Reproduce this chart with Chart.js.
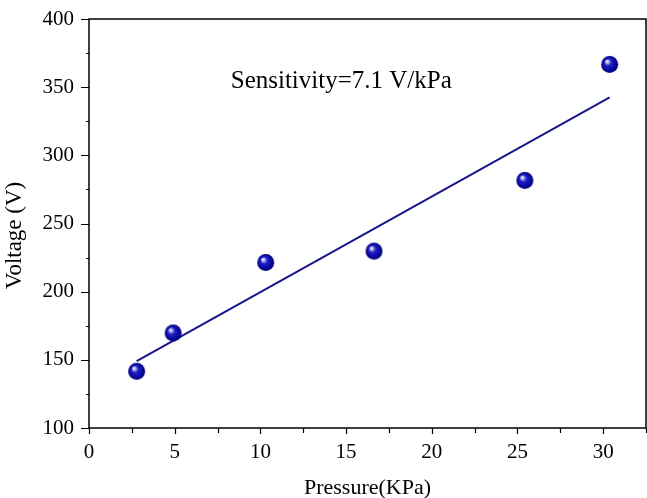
<!DOCTYPE html>
<html lang="en">
<head>
  <meta charset="UTF-8">
  <title>Voltage vs Pressure</title>
  <script src="https://cdn.jsdelivr.net/npm/chart.js"></script>
  <style>
    html, body {
      margin: 0;
      padding: 0;
      background: #fff;
      overflow: hidden;
    }
    #chart {
      display: block;
    }
  </style>
</head>
<body>
  <canvas id="chart" width="647" height="505"></canvas>
  <script>
    // measured points
    const pressure = [2.78, 4.91, 10.31, 16.63, 25.43, 30.38];
    const voltage = [141.6, 169.7, 221.4, 229.7, 281.6, 366.7];

    // linear fit end points
    const fitPressure = [2.78, 30.38];
    const fitVoltage = [149, 342.5];

    // axis ticks
    const xMajorStep = 5;
    const yMajorStep = 50;

    const noteText = 'Sensitivity=7.1 V/kPa';
    const notePos = [8.27, 354];
    const yTitle = 'Voltage (V)';

    const serif = "'Liberation Serif', 'Times New Roman', serif";
    Chart.defaults.font.family = serif;
    Chart.defaults.color = '#000';

    // shaded ball used as point style
    function makeBall(r) {
      const c = document.createElement('canvas');
      c.width = c.height = r * 2 + 2;
      const g = c.getContext('2d');
      const cx = r + 1, cy = r + 1;
      const grad = g.createRadialGradient(cx - r * 0.35, cy - r * 0.4, 0, cx, cy, r);
      grad.addColorStop(0, '#ffffff');
      grad.addColorStop(0.18, '#b8b8f0');
      grad.addColorStop(0.4, '#2222c8');
      grad.addColorStop(0.8, '#06069e');
      grad.addColorStop(1, '#00006a');
      g.fillStyle = grad;
      g.beginPath();
      g.arc(cx, cy, r, 0, Math.PI * 2);
      g.fill();
      return c;
    }
    const ball = makeBall(8.5);

    // no extra room for overflowing labels, the layout is fixed by hand
    function noPad(scale) {
      scale.paddingTop = 0;
      scale.paddingBottom = 0;
      scale.paddingLeft = 0;
      scale.paddingRight = 0;
    }

    // frame, outward ticks (major + minor), y title and the sensitivity note
    const framePlugin = {
      id: 'frame',
      afterDraw(chart) {
        const { ctx, chartArea: { left, right, top, bottom }, scales: { x, y } } = chart;
        ctx.save();
        ctx.strokeStyle = '#000';
        ctx.lineWidth = 1.5;
        ctx.strokeRect(left, top, right - left, bottom - top);

        ctx.lineWidth = 1.2;
        ctx.beginPath();
        x.ticks.forEach(t => {
          const px = Math.round(x.getPixelForValue(t.value)) + 0.5;
          const len = Math.abs(t.value % xMajorStep) < 1e-6 ? 6 : 5;
          ctx.moveTo(px, bottom);
          ctx.lineTo(px, bottom + len);
        });
        y.ticks.forEach(t => {
          const py = Math.round(y.getPixelForValue(t.value)) + 0.5;
          const len = Math.abs(t.value % yMajorStep) < 1e-6 ? 8 : 3;
          ctx.moveTo(left, py);
          ctx.lineTo(left - len, py);
        });
        ctx.stroke();

        ctx.fillStyle = '#000';
        ctx.font = '25px ' + serif;
        ctx.textAlign = 'left';
        ctx.textBaseline = 'middle';
        ctx.fillText(noteText, x.getPixelForValue(notePos[0]), y.getPixelForValue(notePos[1]));

        // y title sits a little below the middle of the axis
        ctx.translate(15, (top + bottom) / 2 + 12);
        ctx.rotate(-Math.PI / 2);
        ctx.font = '23px ' + serif;
        ctx.textAlign = 'center';
        ctx.fillText(yTitle, 0, 0);
        ctx.restore();
      }
    };

    new Chart(document.getElementById('chart'), {
      type: 'scatter',
      data: {
        datasets: [
          {
            label: 'Data',
            data: pressure.map((p, i) => ({ x: p, y: voltage[i] })),
            pointStyle: ball,
            pointRadius: 9,
            showLine: false
          },
          {
            label: 'Fit',
            data: fitPressure.map((p, i) => ({ x: p, y: fitVoltage[i] })),
            showLine: true,
            borderColor: '#16168a',
            borderWidth: 2,
            pointRadius: 0
          }
        ]
      },
      options: {
        responsive: false,
        animation: false,
        layout: { autoPadding: false, padding: { top: 19, right: 1, left: 0, bottom: 0 } },
        plugins: {
          legend: { display: false },
          tooltip: { enabled: false }
        },
        scales: {
          x: {
            type: 'linear',
            min: 0,
            max: 32.5,
            grid: { display: false, drawTicks: false },
            border: { display: false },
            ticks: {
              stepSize: 2.5,
              autoSkip: false,
              maxRotation: 0,
              padding: 12,
              font: { size: 21 },
              color: '#000',
              callback: v => (Math.abs(v % xMajorStep) < 1e-6 ? v : '')
            },
            title: {
              display: true,
              text: 'Pressure(KPa)',
              font: { size: 22 },
              color: '#000',
              padding: { top: 4, bottom: 4 }
            },
            afterFit(scale) { scale.height = 77; noPad(scale); }
          },
          y: {
            min: 100,
            max: 400,
            grid: { display: false, drawTicks: false },
            border: { display: false },
            ticks: {
              stepSize: 25,
              autoSkip: false,
              padding: 15,
              font: { size: 21 },
              color: '#000',
              callback: v => (Math.abs(v % yMajorStep) < 1e-6 ? v : '')
            },
            title: { display: false },
            afterFit(scale) { scale.width = 89; noPad(scale); }
          }
        }
      },
      plugins: [framePlugin]
    });
  </script>
</body>
</html>
